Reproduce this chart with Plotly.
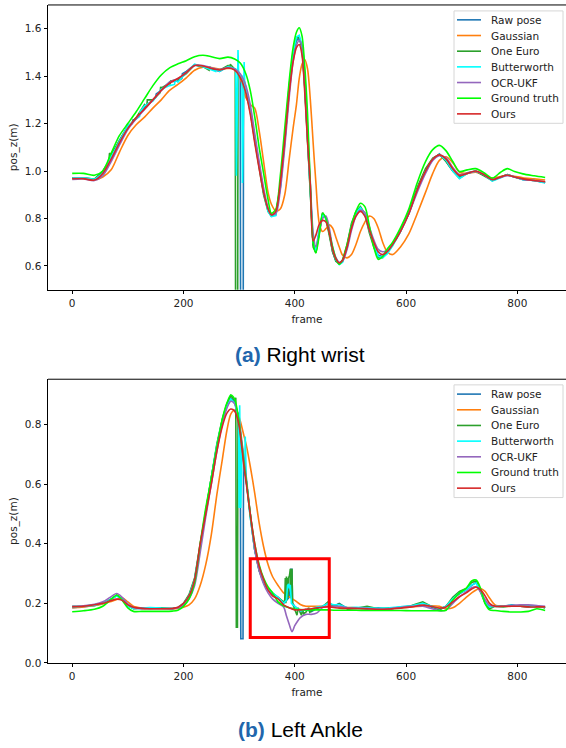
import plotly.graph_objects as go

# ---------------- data: (a) Right wrist ----------------
FRAMES_A = [0, 20, 40, 55, 70, 85, 100, 115, 130, 145,
            160, 175, 190, 205, 220, 235, 250, 265, 280, 292,
            302, 312, 320, 328, 336, 344, 352, 358, 366, 374,
            382, 390, 397, 403, 408, 413, 418, 423, 428, 433,
            438, 444, 450, 456, 462, 468, 474, 480, 486, 494,
            502, 510, 518, 526, 534, 542, 550, 558, 566, 576,
            590, 605, 620, 635, 648, 660, 672, 684, 696, 710,
            725, 740, 755, 770, 782, 795, 810, 830, 850]

RAW_A = [0.97, 0.972, 0.965, 0.995, 1.06, 1.13, 1.19, 1.22, 1.27, 1.30,
         1.34, 1.375, 1.38, 1.42, 1.447, 1.44, 1.43, 1.42, 1.44, 1.43,
         1.405, 1.35, 1.26, 1.14, 1.02, 0.91, 0.835, 0.812, 0.815, 0.93,
         1.12, 1.34, 1.49, 1.55, 1.56, 1.52, 1.36, 1.14, 0.92, 0.69,
         0.66, 0.75, 0.82, 0.80, 0.74, 0.66, 0.62, 0.61, 0.62, 0.68,
         0.77, 0.82, 0.845, 0.82, 0.75, 0.69, 0.645, 0.64, 0.655, 0.69,
         0.745, 0.82, 0.92, 1.0, 1.05, 1.072, 1.04, 1.0, 0.975, 0.993,
         1.0, 0.985, 0.96, 0.975, 0.985, 0.975, 0.965, 0.96, 0.952]
RAW_A_EXTRA_F = [108, 109, 150, 151, 197, 198, 303, 307, 308]
RAW_A_EXTRA_V = [1.20, 1.215, 1.31, 1.325, 1.39, 1.41, -0.2, -0.2, 1.39]

GAUSS_A = [0.97, 0.97, 0.963, 0.975, 1.005, 1.08, 1.15, 1.195, 1.227, 1.265,
           1.30, 1.34, 1.365, 1.393, 1.425, 1.438, 1.436, 1.43, 1.432, 1.43,
           1.39, 1.31, 1.28, 1.265, 1.17, 1.04, 0.91, 0.86, 0.832, 0.84,
           0.90, 1.05, 1.18, 1.28, 1.39, 1.45, 1.47, 1.43, 1.30, 1.12,
           0.95, 0.78, 0.745, 0.757, 0.773, 0.76, 0.72, 0.68, 0.645, 0.634,
           0.648, 0.69, 0.745, 0.785, 0.81, 0.80, 0.76, 0.70, 0.66, 0.648,
           0.68, 0.735, 0.82, 0.91, 0.99, 1.045, 1.06, 1.035, 0.995, 0.99,
           0.995, 0.983, 0.97, 0.977, 0.982, 0.978, 0.972, 0.967, 0.962]

EURO_A = [0.97, 0.97, 0.966, 1.0, 1.07, 1.13, 1.185, 1.225, 1.28, 1.30,
          1.35, 1.37, 1.385, 1.41, 1.447, 1.44, 1.43, 1.425, 1.445, 1.43,
          1.40, 1.34, 1.25, 1.13, 1.01, 0.90, 0.83, 0.81, 0.82, 0.94,
          1.14, 1.36, 1.50, 1.56, 1.565, 1.52, 1.35, 1.13, 0.90, 0.68,
          0.655, 0.75, 0.825, 0.80, 0.73, 0.66, 0.62, 0.61, 0.625, 0.69,
          0.78, 0.83, 0.85, 0.82, 0.74, 0.68, 0.635, 0.635, 0.655, 0.69,
          0.75, 0.83, 0.93, 1.01, 1.055, 1.07, 1.04, 1.0, 0.97, 0.99,
          1.0, 0.98, 0.96, 0.975, 0.985, 0.975, 0.965, 0.96, 0.952]
EURO_A_EXTRA_F = [66, 67, 134, 135, 158, 159, 176, 177, 246, 247, 283, 284, 293, 294, 297, 298]
EURO_A_EXTRA_V = [1.04, 1.075, 1.27, 1.30, 1.33, 1.355, 1.365, 1.38, 1.425, 1.44, 1.435, 1.45,
                  1.43, -0.2, -0.2, 1.42]

BUTTER_A = [0.972, 0.972, 0.965, 0.99, 1.06, 1.125, 1.19, 1.22, 1.275, 1.295,
            1.345, 1.36, 1.375, 1.415, 1.45, 1.44, 1.428, 1.42, 1.44, 1.43,
            1.40, 1.35, 1.26, 1.14, 1.02, 0.91, 0.83, 0.808, 0.812, 0.93,
            1.12, 1.35, 1.50, 1.565, 1.572, 1.53, 1.36, 1.14, 0.91, 0.70,
            0.665, 0.76, 0.815, 0.80, 0.745, 0.67, 0.625, 0.605, 0.615, 0.675,
            0.77, 0.825, 0.845, 0.82, 0.75, 0.69, 0.64, 0.635, 0.65, 0.685,
            0.745, 0.82, 0.92, 1.0, 1.05, 1.07, 1.045, 1.0, 0.968, 0.99,
            1.0, 0.985, 0.958, 0.972, 0.985, 0.975, 0.963, 0.96, 0.95]
BUTTER_A_EXTRA_F = [121, 122, 184, 185, 258, 259, 294, 295, 298, 299, 305, 306, 309, 310]
BUTTER_A_EXTRA_V = [1.23, 1.25, 1.365, 1.385, 1.42, 1.428, 1.43, 0.98, 1.51, 1.42, 1.40, 0.95, 1.46, 1.38]

UKF_A = [0.965, 0.967, 0.96, 0.98, 1.04, 1.11, 1.175, 1.22, 1.26, 1.30,
         1.34, 1.375, 1.39, 1.415, 1.445, 1.445, 1.435, 1.428, 1.436, 1.43,
         1.41, 1.36, 1.28, 1.16, 1.04, 0.93, 0.845, 0.818, 0.82, 0.92,
         1.10, 1.31, 1.46, 1.53, 1.55, 1.53, 1.40, 1.18, 0.95, 0.74,
         0.68, 0.74, 0.80, 0.81, 0.76, 0.68, 0.635, 0.615, 0.62, 0.67,
         0.75, 0.81, 0.835, 0.825, 0.765, 0.71, 0.67, 0.66, 0.665, 0.695,
         0.75, 0.82, 0.91, 0.99, 1.045, 1.065, 1.055, 1.015, 0.985, 0.99,
         0.998, 0.985, 0.965, 0.973, 0.98, 0.975, 0.965, 0.96, 0.955]

GT_A = [0.99, 0.99, 0.982, 1.0, 1.075, 1.15, 1.2, 1.25, 1.305, 1.36,
        1.405, 1.435, 1.452, 1.465, 1.482, 1.488, 1.482, 1.474, 1.48, 1.472,
        1.455, 1.41, 1.34, 1.23, 1.10, 0.99, 0.88, 0.822, 0.84, 0.98,
        1.18, 1.38, 1.52, 1.585, 1.604, 1.57, 1.44, 1.24, 0.94, 0.70,
        0.655, 0.73, 0.822, 0.80, 0.74, 0.68, 0.63, 0.607, 0.625, 0.69,
        0.77, 0.83, 0.864, 0.85, 0.77, 0.68, 0.628, 0.64, 0.67, 0.70,
        0.76, 0.84, 0.95, 1.04, 1.09, 1.108, 1.085, 1.04, 0.998, 1.005,
        1.01, 0.993, 0.97, 0.995, 1.01, 0.998, 0.988, 0.98, 0.973]

OURS_A = [0.968, 0.968, 0.962, 0.99, 1.05, 1.12, 1.18, 1.225, 1.262, 1.30,
          1.34, 1.37, 1.39, 1.415, 1.445, 1.443, 1.432, 1.426, 1.434, 1.425,
          1.395, 1.33, 1.24, 1.12, 1.01, 0.91, 0.84, 0.815, 0.83, 0.95,
          1.13, 1.33, 1.46, 1.52, 1.533, 1.49, 1.33, 1.12, 0.94, 0.705,
          0.73, 0.775, 0.792, 0.785, 0.74, 0.67, 0.63, 0.613, 0.625, 0.68,
          0.76, 0.81, 0.83, 0.81, 0.75, 0.70, 0.66, 0.648, 0.66, 0.69,
          0.745, 0.82, 0.92, 1.0, 1.05, 1.068, 1.05, 1.01, 0.982, 0.99,
          1.0, 0.985, 0.963, 0.975, 0.983, 0.975, 0.967, 0.96, 0.955]

# ---------------- data: (b) Left Ankle ----------------
FRAMES_B = [0, 20, 40, 55, 68, 80, 90, 100, 110, 125,
            140, 160, 180, 190, 200, 210, 220, 230, 240, 250,
            260, 270, 278, 285, 292, 299, 309, 313, 320, 328,
            336, 344, 352, 360, 370, 380, 390, 400, 410, 420,
            430, 440, 450, 460, 470, 480, 495, 510, 530, 550,
            570, 590, 610, 630, 645, 660, 672, 684, 696, 708,
            718, 726, 734, 742, 750, 760, 775, 790, 805, 820,
            835, 850]

RAW_B = [0.185, 0.188, 0.192, 0.2, 0.212, 0.225, 0.215, 0.192, 0.183, 0.182,
         0.185, 0.183, 0.182, 0.185, 0.198, 0.225, 0.28, 0.39, 0.51, 0.62,
         0.73, 0.815, 0.865, 0.888, 0.875, 0.82, 0.67, 0.61, 0.49, 0.38,
         0.31, 0.27, 0.245, 0.23, 0.22, 0.20, 0.22, 0.19, 0.175, 0.18,
         0.172, 0.183, 0.19, 0.2, 0.19, 0.2, 0.182, 0.185, 0.18, 0.185,
         0.18, 0.188, 0.19, 0.2, 0.188, 0.18, 0.19, 0.215, 0.232, 0.245,
         0.26, 0.27, 0.24, 0.205, 0.19, 0.192, 0.19, 0.195, 0.19, 0.19,
         0.192, 0.185]
RAW_B_EXTRA_F = [302, 303, 307, 308, 392, 393, 395, 396]
RAW_B_EXTRA_V = [0.80, 0.081, 0.081, 0.69, 0.25, 0.314, 0.314, 0.20]

GAUSS_B = [0.185, 0.188, 0.193, 0.198, 0.205, 0.213, 0.218, 0.205, 0.19, 0.184,
           0.182, 0.182, 0.182, 0.183, 0.187, 0.195, 0.215, 0.26, 0.33, 0.43,
           0.565, 0.685, 0.78, 0.835, 0.849, 0.83, 0.76, 0.73, 0.66, 0.57,
           0.47, 0.39, 0.33, 0.29, 0.26, 0.235, 0.222, 0.21, 0.196, 0.19,
           0.19, 0.19, 0.19, 0.19, 0.19, 0.188, 0.186, 0.185, 0.183, 0.182,
           0.183, 0.185, 0.188, 0.19, 0.192, 0.19, 0.182, 0.185, 0.2, 0.22,
           0.235, 0.245, 0.25, 0.24, 0.218, 0.195, 0.19, 0.19, 0.19, 0.189,
           0.188, 0.188]

EURO_B = [0.19, 0.19, 0.195, 0.2, 0.21, 0.228, 0.215, 0.192, 0.182, 0.185,
          0.183, 0.185, 0.182, 0.186, 0.20, 0.23, 0.285, 0.40, 0.515, 0.625,
          0.735, 0.82, 0.87, 0.897, 0.88, 0.825, 0.67, 0.61, 0.49, 0.38,
          0.31, 0.27, 0.25, 0.235, 0.22, 0.205, 0.288, 0.18, 0.165, 0.17,
          0.175, 0.185, 0.188, 0.205, 0.19, 0.198, 0.18, 0.183, 0.19, 0.182,
          0.185, 0.185, 0.193, 0.205, 0.19, 0.178, 0.19, 0.22, 0.24, 0.25,
          0.27, 0.275, 0.24, 0.20, 0.182, 0.19, 0.188, 0.192, 0.19, 0.188,
          0.19, 0.185]
EURO_B_EXTRA_F = [294, 295, 297, 298,
                  382, 383, 384, 385, 386, 387, 388, 389, 391, 392, 393, 394, 395, 396,
                  402, 404, 406, 412, 414, 416, 425, 427]
EURO_B_EXTRA_V = [0.89, 0.12, 0.12, 0.84,
                  0.21, 0.285, 0.20, 0.29, 0.21, 0.285, 0.22, 0.29, 0.30, 0.316, 0.22, 0.316, 0.316, 0.20,
                  0.175, 0.16, 0.185, 0.16, 0.18, 0.165, 0.185, 0.17]

BUTTER_B = [0.187, 0.19, 0.194, 0.2, 0.21, 0.225, 0.213, 0.19, 0.183, 0.184,
            0.186, 0.184, 0.183, 0.186, 0.198, 0.225, 0.28, 0.39, 0.51, 0.62,
            0.73, 0.815, 0.86, 0.885, 0.872, 0.82, 0.66, 0.61, 0.49, 0.38,
            0.315, 0.275, 0.25, 0.235, 0.22, 0.20, 0.25, 0.19, 0.175, 0.178,
            0.18, 0.188, 0.19, 0.2, 0.195, 0.195, 0.185, 0.187, 0.185, 0.183,
            0.185, 0.188, 0.192, 0.2, 0.192, 0.182, 0.19, 0.215, 0.235, 0.245,
            0.262, 0.268, 0.24, 0.205, 0.188, 0.19, 0.19, 0.193, 0.19, 0.19,
            0.19, 0.188]
BUTTER_B_EXTRA_F = [300, 301, 303, 305, 307, 310, 311, 312, 385, 387, 389, 392, 394]
BUTTER_B_EXTRA_V = [0.52, 0.865, 0.52, 0.74, 0.70, 0.64, 0.76, 0.62, 0.21, 0.26, 0.265, 0.262, 0.20]

UKF_B = [0.19, 0.192, 0.197, 0.205, 0.22, 0.233, 0.22, 0.198, 0.186, 0.183,
         0.182, 0.182, 0.182, 0.184, 0.193, 0.215, 0.26, 0.37, 0.49, 0.60,
         0.71, 0.805, 0.855, 0.878, 0.87, 0.825, 0.68, 0.62, 0.50, 0.38,
         0.31, 0.265, 0.235, 0.215, 0.2, 0.188, 0.13, 0.125, 0.152, 0.163,
         0.163, 0.168, 0.186, 0.19, 0.19, 0.19, 0.185, 0.183, 0.183, 0.18,
         0.182, 0.186, 0.19, 0.19, 0.183, 0.175, 0.178, 0.2, 0.222, 0.238,
         0.252, 0.255, 0.238, 0.213, 0.193, 0.19, 0.19, 0.193, 0.195, 0.195,
         0.193, 0.19]
UKF_B_EXTRA_F = [385, 395, 405]
UKF_B_EXTRA_V = [0.158, 0.105, 0.14]

GT_B = [0.172, 0.175, 0.18, 0.19, 0.21, 0.227, 0.21, 0.185, 0.173, 0.173,
        0.173, 0.173, 0.174, 0.177, 0.19, 0.215, 0.27, 0.40, 0.52, 0.62,
        0.725, 0.82, 0.872, 0.899, 0.885, 0.82, 0.665, 0.61, 0.50, 0.40,
        0.33, 0.285, 0.255, 0.235, 0.205, 0.192, 0.185, 0.181, 0.179, 0.178,
        0.178, 0.178, 0.178, 0.178, 0.177, 0.177, 0.177, 0.177, 0.176, 0.176,
        0.176, 0.176, 0.175, 0.175, 0.175, 0.175, 0.177, 0.21, 0.235, 0.25,
        0.275, 0.278, 0.25, 0.20, 0.178, 0.176, 0.173, 0.171, 0.171, 0.173,
        0.182, 0.176]

OURS_B = [0.188, 0.19, 0.195, 0.2, 0.208, 0.214, 0.21, 0.195, 0.187, 0.183,
          0.182, 0.182, 0.183, 0.187, 0.20, 0.225, 0.28, 0.40, 0.50, 0.60,
          0.71, 0.795, 0.838, 0.852, 0.845, 0.805, 0.655, 0.60, 0.50, 0.40,
          0.325, 0.28, 0.245, 0.225, 0.215, 0.195, 0.185, 0.178, 0.178, 0.18,
          0.182, 0.185, 0.187, 0.188, 0.186, 0.184, 0.183, 0.183, 0.182, 0.18,
          0.181, 0.184, 0.188, 0.194, 0.19, 0.184, 0.188, 0.205, 0.222, 0.235,
          0.248, 0.255, 0.245, 0.225, 0.2, 0.19, 0.19, 0.19, 0.19, 0.188,
          0.188, 0.188]

LABELS = ["Raw pose", "Gaussian", "One Euro", "Butterworth", "OCR-UKF", "Ground truth", "Ours"]
COLORS = ["#1f77b4", "#ff7f0e", "#2ca02c", "#00ffff", "#9467bd", "#00ff00", "#d62728"]
X_TICKS = [0, 200, 400, 600, 800]
Y_TICKS_A = [0.6, 0.8, 1.0, 1.2, 1.4, 1.6]
Y_TICKS_B = [0.0, 0.2, 0.4, 0.6, 0.8]
RECT_B = dict(x0=320, x1=462, y0=0.085, y1=0.35)
CAPTIONS = [("(a)", "Right wrist"), ("(b)", "Left Ankle")]


def merge(frames, vals, ef=(), ev=()):
    assert len(frames) == len(vals), (len(frames), len(vals))
    pts = sorted(zip(list(frames) + list(ef), list(vals) + list(ev)), key=lambda p: p[0])
    return [p[0] for p in pts], [p[1] for p in pts]


series_a = [
    merge(FRAMES_A, RAW_A, RAW_A_EXTRA_F, RAW_A_EXTRA_V),
    merge(FRAMES_A, GAUSS_A),
    merge(FRAMES_A, EURO_A, EURO_A_EXTRA_F, EURO_A_EXTRA_V),
    merge(FRAMES_A, BUTTER_A, BUTTER_A_EXTRA_F, BUTTER_A_EXTRA_V),
    merge(FRAMES_A, UKF_A),
    merge(FRAMES_A, GT_A),
    merge(FRAMES_A, OURS_A),
]
series_b = [
    merge(FRAMES_B, RAW_B, RAW_B_EXTRA_F, RAW_B_EXTRA_V),
    merge(FRAMES_B, GAUSS_B),
    merge(FRAMES_B, EURO_B, EURO_B_EXTRA_F, EURO_B_EXTRA_V),
    merge(FRAMES_B, BUTTER_B, BUTTER_B_EXTRA_F, BUTTER_B_EXTRA_V),
    merge(FRAMES_B, UKF_B, UKF_B_EXTRA_F, UKF_B_EXTRA_V),
    merge(FRAMES_B, GT_B),
    merge(FRAMES_B, OURS_B),
]
SMOOTH = {"Gaussian", "OCR-UKF", "Ground truth", "Ours"}

fig = go.Figure()
for axes, series in ((("x", "y"), series_a), (("x2", "y2"), series_b)):
    for (xs, ys), name, col in zip(series, LABELS, COLORS):
        fig.add_trace(go.Scatter(
            x=xs, y=ys, name=name, mode="lines", xaxis=axes[0], yaxis=axes[1],
            showlegend=False,
            line=dict(color=col, width=1.6, shape="spline" if name in SMOOTH else "linear",
                      smoothing=0.8)))

W, H = 566, 748
FONT = "DejaVu Sans, Verdana, sans-serif"
tickfont = dict(family=FONT, size=10.5, color="#222222")
common_x = dict(range=[-43.5, 887.5], domain=[48 / W, 1], tickvals=X_TICKS,
                showline=True, linecolor="black", linewidth=1, mirror=False,
                ticks="outside", ticklen=3.5, tickwidth=1, tickcolor="black",
                showgrid=False, zeroline=False, tickfont=tickfont,
                title=dict(text="frame", font=tickfont, standoff=7))
common_y = dict(showline=True, linecolor="black", linewidth=1, mirror=False,
                ticks="outside", ticklen=3.5, tickwidth=1, tickcolor="black",
                showgrid=False, zeroline=False, tickfont=tickfont, tickformat=".1f",
                title=dict(text="pos_z(m)", font=tickfont, standoff=5))

# axes spines (top), red zoom box
shapes = [
    dict(type="line", xref="x domain", yref="y domain", x0=0, x1=1, y0=1, y1=1,
         line=dict(color="black", width=1)),
    dict(type="line", xref="x2 domain", yref="y2 domain", x0=0, x1=1, y0=1, y1=1,
         line=dict(color="black", width=1)),
    dict(type="rect", xref="x2", yref="y2", line=dict(color="#ff0000", width=3),
         fillcolor="rgba(0,0,0,0)", **RECT_B),
]
annotations = []

# matplotlib-style legends (box, line samples, labels) for both panels
LEG_LEFT, LEG_RIGHT = 454, 563
LEG_LINE = (457, 481)
LEG_TEXT_X = 489
LEG_STEP = 15.8
for top, first in ((11, 20.0), (388, 397.3)):
    bottom = first + LEG_STEP * (len(LABELS) - 1) + 9.5
    shapes.append(dict(type="rect", xref="paper", yref="paper",
                       x0=LEG_LEFT / W, x1=LEG_RIGHT / W, y0=1 - top / H, y1=1 - bottom / H,
                       line=dict(color="#d6d6d6", width=1), fillcolor="rgba(255,255,255,0.85)",
                       layer="above"))
    for i, (name, col) in enumerate(zip(LABELS, COLORS)):
        yc = first + LEG_STEP * i
        shapes.append(dict(type="line", xref="paper", yref="paper",
                           x0=LEG_LINE[0] / W, x1=LEG_LINE[1] / W, y0=1 - yc / H, y1=1 - yc / H,
                           line=dict(color=col, width=1.6), layer="above"))
        annotations.append(dict(text=name, xref="paper", yref="paper", x=LEG_TEXT_X / W,
                                y=1 - yc / H, xanchor="left", yanchor="middle", showarrow=False,
                                font=dict(family=FONT, size=10.5, color="#222222")))

for (tag, title), yc in zip(CAPTIONS, (357, 735)):
    annotations.append(dict(
        text=f"<b><span style='color:#2166ac'>{tag}</span></b> {title}",
        xref="paper", yref="paper", x=300 / W, y=1 - yc / H, xanchor="center",
        yanchor="middle", showarrow=False,
        font=dict(family="Liberation Sans, Arial, sans-serif", size=21, color="black")))

fig.update_layout(
    width=W, height=H, margin=dict(l=0, r=0, t=0, b=0),
    paper_bgcolor="white", plot_bgcolor="white", showlegend=False,
    xaxis=dict(common_x, anchor="y"),
    yaxis=dict(common_y, anchor="x", domain=[1 - 292 / H, 1 - 5 / H], range=[0.5, 1.70],
               tickvals=Y_TICKS_A),
    xaxis2=dict(common_x, anchor="y2"),
    yaxis2=dict(common_y, anchor="x2", domain=[1 - 668.3 / H, 1 - 382.3 / H], range=[0, 0.952],
                tickvals=Y_TICKS_B),
    shapes=shapes,
    annotations=annotations,
)

# remove the browser's default 8px page margin so the figure sits at the window origin
fig.write_html("out.html", config={"displayModeBar": False},
               post_script="document.body.style.margin='0';document.body.style.overflow='hidden';")
